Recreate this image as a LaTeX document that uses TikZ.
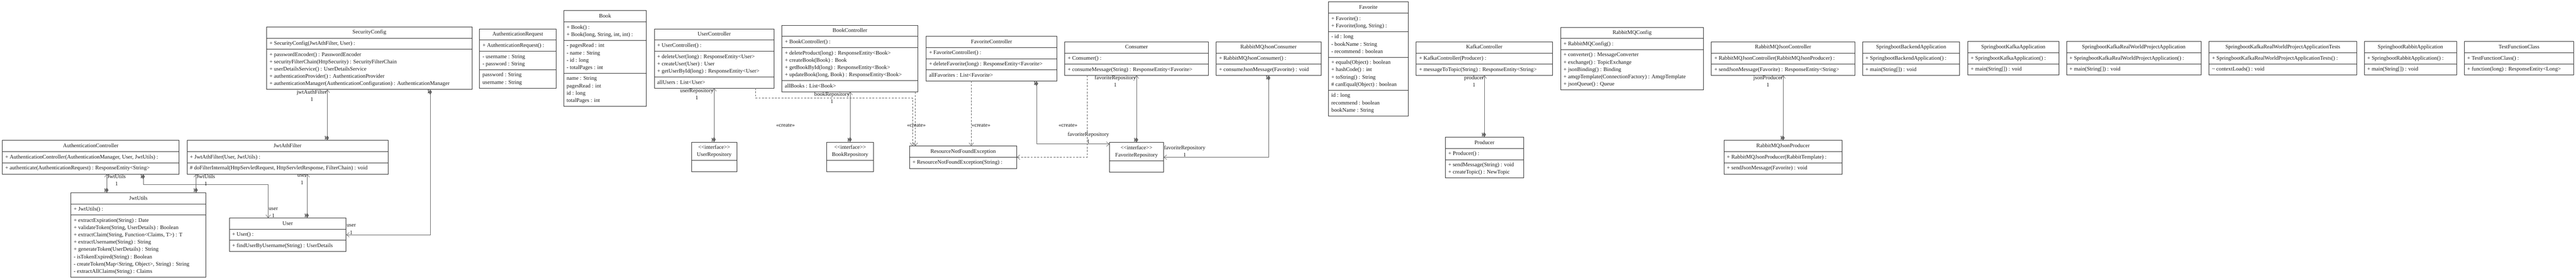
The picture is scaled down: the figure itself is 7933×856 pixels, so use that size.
\documentclass[tikz,border=0pt]{standalone}
\usepackage{fontspec}
\setmainfont{Liberation Serif}
\usetikzlibrary{arrows.meta,shapes.multipart}

\definecolor{boxline}{HTML}{333333}
\definecolor{linkgray}{HTML}{666666}
\definecolor{txt}{HTML}{1A1A1A}
\newcommand{\umlfont}{\fontsize{17}{22.4}\selectfont}

\tikzset{
	umlclass/.style={draw=boxline, line width=1.4pt, rectangle split, rectangle split parts=#1,
		rectangle split part align={center,left,left,left,left}, align=left, anchor=north west,
		inner xsep=9pt, inner ysep=5.3pt, outer sep=0pt, font=\umlfont, text=txt},
	umliface/.style={umlclass=2, rectangle split part align={center,center}, align=center},
	assoc/.style={draw=linkgray, line width=1.1pt,
		{Diamond[length=16pt,width=10pt,fill=linkgray]}-{Straight Barb[length=9pt,width=14pt]}},
	create/.style={draw=linkgray, line width=1.1pt, dash pattern=on 6pt off 4pt,
		-{Straight Barb[length=9pt,width=14pt]}},
	role/.style={font=\umlfont, text=txt, inner sep=1pt, align=center}
}

\begin{document}
\begin{tikzpicture}[x=1pt, y=-1pt]
	\useasboundingbox (0,0) rectangle (7933,856);

	% Nodes {security}
	\node [umlclass=3, minimum width=545] (ac) at (7,433) {\strut AuthenticationController
		\nodepart{two}\strut + AuthenticationController(AuthenticationManager, User, JwtUtils) :
		\nodepart{three}\strut + authenticate(AuthenticationRequest) : ResponseEntity<String>};
	\node [umlclass=3, minimum width=416] (jwt) at (218,594) {\strut JwtUtils
		\nodepart{two}\strut + JwtUtils() :
		\nodepart{three}\strut + extractExpiration(String) : Date\\
		\strut + validateToken(String, UserDetails) : Boolean\\
		\strut + extractClaim(String, Function<Claims, T>) : T\\
		\strut + extractUsername(String) : String\\
		\strut + generateToken(UserDetails) : String\\
		\strut - isTokenExpired(String) : Boolean\\
		\strut - createToken(Map<String, Object>, String) : String\\
		\strut - extractAllClaims(String) : Claims};
	\node [umlclass=3, minimum width=633] (sc) at (821,83) {\strut SecurityConfig
		\nodepart{two}\strut + SecurityConfig(JwtAthFilter, User) :
		\nodepart{three}\strut + passwordEncoder() : PasswordEncoder\\
		\strut + securityFilterChain(HttpSecurity) : SecurityFilterChain\\
		\strut + userDetailsService() : UserDetailsService\\
		\strut + authenticationProvider() : AuthenticationProvider\\
		\strut + authenticationManager(AuthenticationConfiguration) : AuthenticationManager};
	\node [umlclass=3, minimum width=619] (jaf) at (576,433) {\strut JwtAthFilter
		\nodepart{two}\strut + JwtAthFilter(User, JwtUtils) :
		\nodepart{three}\strut \# doFilterInternal(HttpServletRequest, HttpServletResponse, FilterChain) : void};
	\node [umlclass=3, minimum width=360] (usr) at (706,672) {\strut User
		\nodepart{two}\strut + User() :
		\nodepart{three}\strut + findUserByUsername(String) : UserDetails};
	\node [umlclass=4, minimum width=235] (areq) at (1477,89) {\strut AuthenticationRequest
		\nodepart{two}\strut + AuthenticationRequest() :
		\nodepart{three}\strut - username : String\\
		\strut - password : String
		\nodepart{four}\strut password : String\\
		\strut username : String};

	% Nodes {books and users}
	\node [umlclass=4, minimum width=255] (book) at (1736,33) {\strut Book
		\nodepart{two}\strut + Book() :\\
		\strut + Book(long, String, int, int) :
		\nodepart{three}\strut - pagesRead : int\\
		\strut - name : String\\
		\strut - id : long\\
		\strut - totalPages : int
		\nodepart{four}\strut name : String\\
		\strut pagesRead : int\\
		\strut id : long\\
		\strut totalPages : int};
	\node [umlclass=4, minimum width=369] (uc) at (2015,89) {\strut UserController
		\nodepart{two}\strut + UserController() :
		\nodepart{three}\strut + deleteUser(long) : ResponseEntity<User>\\
		\strut + createUser(User) : User\\
		\strut + getUserById(long) : ResponseEntity<User>
		\nodepart{four}\strut allUsers : List<User>};
	\node [umlclass=4, minimum width=419] (bc) at (2408,78) {\strut BookController
		\nodepart{two}\strut + BookController() :
		\nodepart{three}\strut + deleteProduct(long) : ResponseEntity<Book>\\
		\strut + createBook(Book) : Book\\
		\strut + getBookById(long) : ResponseEntity<Book>\\
		\strut + updateBook(long, Book) : ResponseEntity<Book>
		\nodepart{four}\strut allBooks : List<Book>};
	\node [umliface, minimum width=139] (urep) at (2130,438) {\strut <{}<interface>{}>\\
		\strut UserRepository
		\nodepart{two}\strut};
	\node [umliface, minimum width=144] (brep) at (2546,438) {\strut <{}<interface>{}>\\
		\strut BookRepository
		\nodepart{two}\strut};
	\node [umlclass=2, minimum width=330] (rnf) at (2801,450) {\strut ResourceNotFoundException
		\nodepart{two}\strut + ResourceNotFoundException(String) :};

	% Nodes {favorites}
	\node [umlclass=4, minimum width=403] (fc) at (2852,112) {\strut FavoriteController
		\nodepart{two}\strut + FavoriteController() :
		\nodepart{three}\strut + deleteFavorite(long) : ResponseEntity<Favorite>
		\nodepart{four}\strut allFavorites : List<Favorite>};
	\node [umlclass=3, minimum width=442] (cons) at (3279,129) {\strut Consumer
		\nodepart{two}\strut + Consumer() :
		\nodepart{three}\strut + consumeMessage(String) : ResponseEntity<Favorite>};
	\node [umliface, minimum width=166] (frep) at (3417,439) {\strut <{}<interface>{}>\\
		\strut FavoriteRepository
		\nodepart{two}\strut};
	\node [umlclass=3, minimum width=323] (rjc) at (3745,129) {\strut RabbitMQJsonConsumer
		\nodepart{two}\strut + RabbitMQJsonConsumer() :
		\nodepart{three}\strut + consumeJsonMessage(Favorite) : void};
	\node [umlclass=5, minimum width=246] (fav) at (4091,6) {\strut Favorite
		\nodepart{two}\strut + Favorite() :\\
		\strut + Favorite(long, String) :
		\nodepart{three}\strut - id : long\\
		\strut - bookName : String\\
		\strut - recommend : boolean
		\nodepart{four}\strut + equals(Object) : boolean\\
		\strut + hashCode() : int\\
		\strut + toString() : String\\
		\strut \# canEqual(Object) : boolean
		\nodepart{five}\strut id : long\\
		\strut recommend : boolean\\
		\strut bookName : String};

	% Nodes {messaging}
	\node [umlclass=3, minimum width=420] (kc) at (4361,129) {\strut KafkaController
		\nodepart{two}\strut + KafkaController(Producer) :
		\nodepart{three}\strut + messageToTopic(String) : ResponseEntity<String>};
	\node [umlclass=3, minimum width=241] (prod) at (4451,423) {\strut Producer
		\nodepart{two}\strut + Producer() :
		\nodepart{three}\strut + sendMessage(String) : void\\
		\strut + createTopic() : NewTopic};
	\node [umlclass=3, minimum width=440] (rcfg) at (4806,84) {\strut RabbitMQConfig
		\nodepart{two}\strut + RabbitMQConfig() :
		\nodepart{three}\strut + converter() : MessageConverter\\
		\strut + exchange() : TopicExchange\\
		\strut + jsonBinding() : Binding\\
		\strut + amqpTemplate(ConnectionFactory) : AmqpTemplate\\
		\strut + jsonQueue() : Queue};
	\node [umlclass=3, minimum width=442] (rjctl) at (5270,129) {\strut RabbitMQJsonController
		\nodepart{two}\strut + RabbitMQJsonController(RabbitMQJsonProducer) :
		\nodepart{three}\strut + sendJsonMessage(Favorite) : ResponseEntity<String>};
	\node [umlclass=3, minimum width=364] (rjp) at (5309,433) {\strut RabbitMQJsonProducer
		\nodepart{two}\strut + RabbitMQJsonProducer(RabbitTemplate) :
		\nodepart{three}\strut + sendJsonMessage(Favorite) : void};

	% Nodes {applications}
	\node [umlclass=3, minimum width=299] (sba) at (5736,129) {\strut SpringbootBackendApplication
		\nodepart{two}\strut + SpringbootBackendApplication() :
		\nodepart{three}\strut + main(String[]) : void};
	\node [umlclass=3, minimum width=280] (ska) at (6060,128) {\strut SpringbootKafkaApplication
		\nodepart{two}\strut + SpringbootKafkaApplication() :
		\nodepart{three}\strut + main(String[]) : void};
	\node [umlclass=3, minimum width=414] (skrw) at (6364,128) {\strut SpringbootKafkaRealWorldProjectApplication
		\nodepart{two}\strut + SpringbootKafkaRealWorldProjectApplication() :
		\nodepart{three}\strut + main(String[]) : void};
	\node [umlclass=3, minimum width=454] (skrwt) at (6803,128) {\strut SpringbootKafkaRealWorldProjectApplicationTests
		\nodepart{two}\strut + SpringbootKafkaRealWorldProjectApplicationTests() :
		\nodepart{three}\strut \textasciitilde{} contextLoads() : void};
	\node [umlclass=3, minimum width=284] (sra) at (7281,128) {\strut SpringbootRabbitApplication
		\nodepart{two}\strut + SpringbootRabbitApplication() :
		\nodepart{three}\strut + main(String[]) : void};
	\node [umlclass=3, minimum width=337] (tfc) at (7589,128) {\strut TestFunctionClass
		\nodepart{two}\strut + TestFunctionClass() :
		\nodepart{three}\strut + function(long) : ResponseEntity<Long>};

	% Paths {associations}
	\draw [assoc] (jwt.north -| 329,0) node [role, anchor=south east] {1}
		-- (ac.south -| 329,0) node [role, anchor=north west] {JwtUtils\\1};
	\draw [assoc] (ac.south -| 441,0) node [role, anchor=north east] {1}
		|- (826,569) -- (usr.north -| 826,0) node [role, anchor=south west] {user\\1};
	\draw [assoc] (jwt.north -| 604,0) node [role, anchor=south east] {1}
		-- (jaf.south -| 604,0) node [role, anchor=north west] {JwtUtils\\1};
	\draw [assoc] (jaf.north -| 1008,0) node [role, anchor=south east] {1}
		-- (sc.south -| 1008,0) node [role, anchor=north east] {jwtAuthFilter\\1};
	\draw [assoc] (usr.north -| 946,0) node [role, anchor=south east] {1}
		-- (jaf.south -| 946,0) node [role, anchor=north east] {user\\1};
	\draw [assoc] (sc.south -| 1325,0) node [role, anchor=north east] {1}
		|- (usr.east) node [role, anchor=south west] {user\\1};
	\draw [assoc] (urep.north -| 2199,0) node [role, anchor=south east] {1}
		-- (uc.south -| 2199,0) node [role, anchor=north east] {userRepository\\1};
	\draw [assoc] (brep.north -| 2618,0) node [role, anchor=south east] {1}
		-- (bc.south -| 2618,0) node [role, anchor=north east] {bookRepository\\1};
	\draw [assoc] (fc.south -| 3192,0) node [role, anchor=north east] {1}
		|- (frep.west |- 0,444) node [role, anchor=south east] {favoriteRepository\\1};
	\draw [assoc] (frep.north -| 3500,0) node [role, anchor=south east] {1}
		-- (cons.south -| 3500,0) node [role, anchor=north east] {favoriteRepository\\1};
	\draw [assoc] (rjc.south -| 3907,0) node [role, anchor=north east] {1}
		|- (frep.east) node [role, anchor=south west] {favoriteRepository\\1};
	\draw [assoc] (prod.north -| 4571,0) node [role, anchor=south east] {1}
		-- (kc.south -| 4571,0) node [role, anchor=north east] {producer\\1};
	\draw [assoc] (rjp.north -| 5491,0) node [role, anchor=south east] {1}
		-- (rjctl.south -| 5491,0) node [role, anchor=north east] {jsonProducer\\1};

	% Paths {create}
	\draw [create] (uc.south -| 2327,0) |- (2810,302) -- (rnf.north -| 2810,0);
	\draw [create] (bc.south -| 2819,0) -- (rnf.north -| 2819,0);
	\draw [create] (fc.south -| 2991,0) -- (rnf.north -| 2991,0);
	\draw [create] (cons.south -| 3348,0) |- (rnf.east);
	\node [role] (cruc) at (2419,387) {«create»};
	\node [role] (crbc) at (2822,387) {«create»};
	\node [role, anchor=west] (crfc) at (2991,387) {«create»};
	\node [role] (crcons) at (3289,387) {«create»};
\end{tikzpicture}
\end{document}
